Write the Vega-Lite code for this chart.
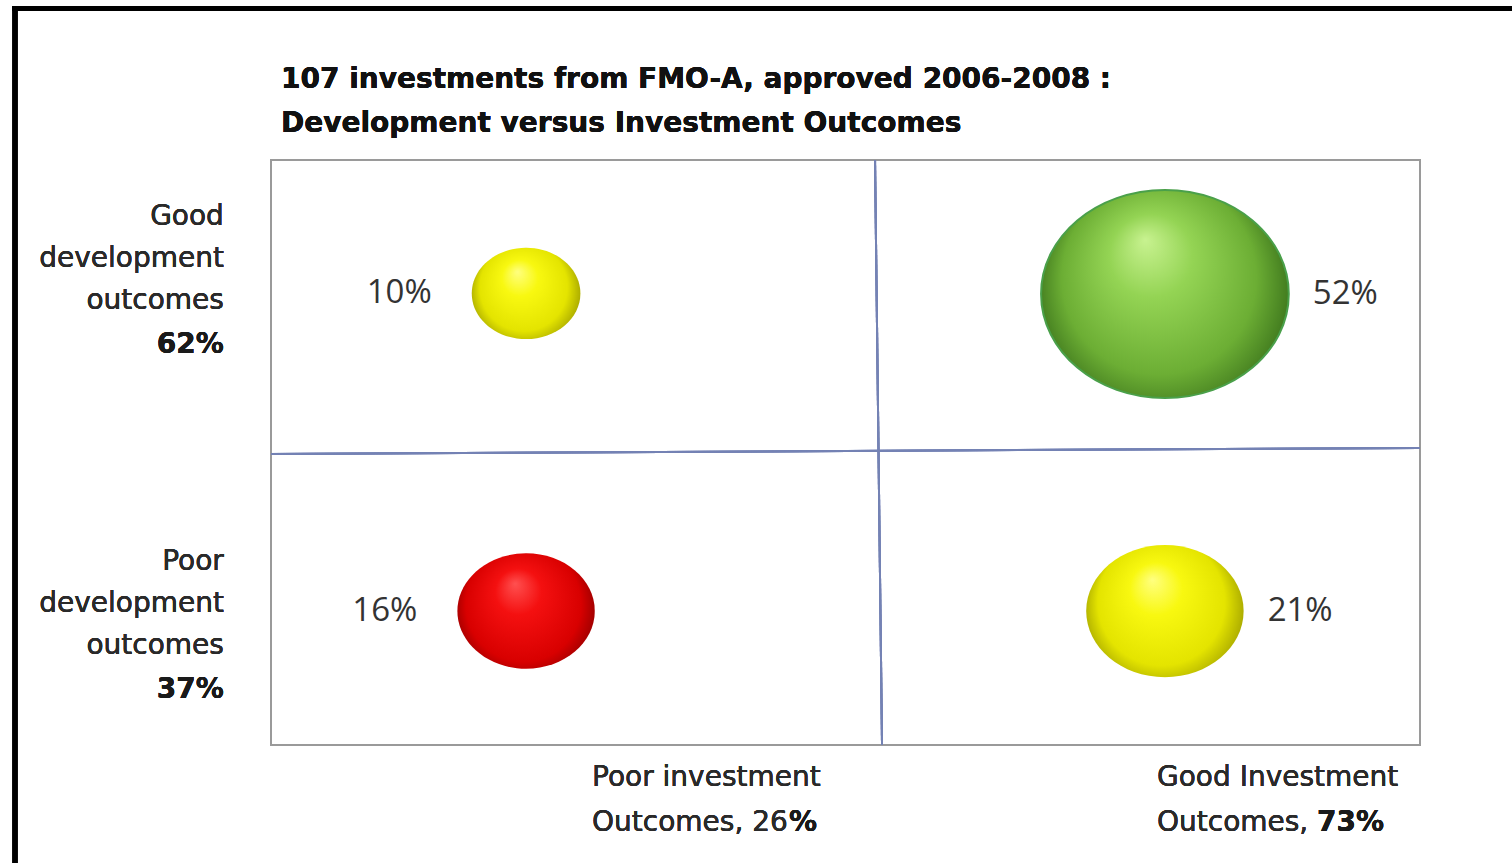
{
  "$schema": "https://vega.github.io/schema/vega-lite/v6.json",
  "autosize": {"type": "none"},
  "width": 1149,
  "height": 585,
  "padding": {"left": 271, "top": 160, "right": 92, "bottom": 118},
  "background": "white",
  "config": {
    "view": {"stroke": "#9a9a9a", "strokeWidth": 2},
    "font": "DejaVu Sans"
  },
  "data": {
    "values": [
      {"investment": "Poor", "development": "Good", "pct": 10, "rating": "mixed", "x": 22.2, "y": 77.2},
      {"investment": "Good", "development": "Good", "pct": 52, "rating": "good", "x": 77.8, "y": 77.1},
      {"investment": "Poor", "development": "Poor", "pct": 16, "rating": "poor", "x": 22.2, "y": 22.9},
      {"investment": "Good", "development": "Poor", "pct": 21, "rating": "mixed", "x": 77.8, "y": 22.9}
    ]
  },
  "layer": [
    {
      "mark": {"type": "rule", "color": "#000000", "strokeWidth": 5},
      "encoding": {
        "x": {"datum": -22.28, "type": "quantitative", "scale": {"domain": [0, 100], "nice": false, "zero": false}, "axis": null},
        "y": {"datum": 126.3, "type": "quantitative", "scale": {"domain": [0, 100], "nice": false, "zero": false}, "axis": null},
        "y2": {"datum": -21}
      }
    },
    {
      "mark": {"type": "rule", "color": "#000000", "strokeWidth": 5},
      "encoding": {
        "x": {"datum": -22.5, "type": "quantitative"},
        "x2": {"datum": 109},
        "y": {"datum": 125.9, "type": "quantitative"}
      }
    },
    {
      "mark": {"type": "text", "font": "DejaVu Sans", "fontSize": 28, "fontWeight": "bold", "color": "#111111", "align": "left", "baseline": "middle", "lineHeight": 44,
        "text": ["107 investments from FMO-A, approved 2006-2008 :", "Development versus Investment Outcomes"]},
      "encoding": {
        "x": {"datum": 0.87, "type": "quantitative"},
        "y": {"datum": 113.68, "type": "quantitative"}
      }
    },
    {
      "mark": {"type": "rule", "color": "#7482b4", "strokeWidth": 2},
      "encoding": {
        "x": {"datum": 52.57, "type": "quantitative"},
        "x2": {"datum": 53.18},
        "y": {"datum": 100, "type": "quantitative"},
        "y2": {"datum": 0}
      }
    },
    {
      "mark": {"type": "rule", "color": "#7482b4", "strokeWidth": 2},
      "encoding": {
        "x": {"datum": 0, "type": "quantitative"},
        "x2": {"datum": 100},
        "y": {"datum": 49.74, "type": "quantitative"},
        "y2": {"datum": 50.77}
      }
    },
    {
      "mark": {
        "type": "point",
        "filled": true,
        "opacity": 1,
        "shape": "M-1,0A1,0.84,0,1,0,1,0A1,0.84,0,1,0,-1,0Z",
        "strokeWidth": 2
      },
      "encoding": {
        "x": {"field": "x", "type": "quantitative"},
        "y": {"field": "y", "type": "quantitative"},
        "size": {"field": "pct", "type": "quantitative", "scale": {"domain": [0, 52], "range": [0, 61360]}, "legend": null},
        "fill": {
          "condition": [
            {"test": "datum.rating === 'good'", "value": {"gradient": "radial", "x1": 0.42, "y1": 0.28, "r1": 0, "x2": 0.5, "y2": 0.5, "r2": 0.56, "stops": [{"offset": 0, "color": "#c8f290"}, {"offset": 0.3, "color": "#94d454"}, {"offset": 0.7, "color": "#6cae34"}, {"offset": 0.9, "color": "#447e20"}, {"offset": 1, "color": "#2c6414"}]}},
            {"test": "datum.rating === 'poor'", "value": {"gradient": "radial", "x1": 0.42, "y1": 0.3, "r1": 0, "x2": 0.5, "y2": 0.5, "r2": 0.56, "stops": [{"offset": 0, "color": "#ff5050"}, {"offset": 0.3, "color": "#f41010"}, {"offset": 0.75, "color": "#d80000"}, {"offset": 0.92, "color": "#a00000"}, {"offset": 1, "color": "#600000"}]}}
          ],
          "value": {"gradient": "radial", "x1": 0.42, "y1": 0.3, "r1": 0, "x2": 0.5, "y2": 0.5, "r2": 0.56, "stops": [{"offset": 0, "color": "#ffff80"}, {"offset": 0.3, "color": "#f8f810"}, {"offset": 0.72, "color": "#e4e400"}, {"offset": 0.9, "color": "#b0b000"}, {"offset": 1, "color": "#7a7a00"}]}
        },
        "stroke": {
          "condition": {"test": "datum.rating === 'good'", "value": "#4aa04a"},
          "value": "transparent"
        }
      }
    },
    {
      "mark": {
        "type": "text",
        "font": "Open Sans",
        "fontSize": 33,
        "color": "#333333",
        "baseline": "middle",
        "text": {"expr": "datum.pct + '%'"},
        "align": {"expr": "datum.x < 50 ? 'right' : 'left'"},
        "dx": {"expr": "datum.x < 50 ? -(sqrt(1180 * datum.pct) / 2 + 40) : (sqrt(1180 * datum.pct) / 2 + 24)"}
      },
      "encoding": {
        "x": {"field": "x", "type": "quantitative"},
        "y": {"field": "y", "type": "quantitative"}
      }
    },
    {
      "mark": {"type": "text", "font": "DejaVu Sans", "fontSize": 28, "color": "#2a2a2a", "align": "right", "baseline": "middle", "lineHeight": 42, "text": ["Good", "development", "outcomes"]},
      "encoding": {
        "x": {"datum": -4.1, "type": "quantitative"},
        "y": {"datum": 90.26, "type": "quantitative"}
      }
    },
    {
      "mark": {"type": "text", "font": "DejaVu Sans", "fontSize": 28, "fontWeight": "bold", "color": "#1a1a1a", "align": "right", "baseline": "middle", "text": "62%"},
      "encoding": {
        "x": {"datum": -4.1, "type": "quantitative"},
        "y": {"datum": 68.38, "type": "quantitative"}
      }
    },
    {
      "mark": {"type": "text", "font": "DejaVu Sans", "fontSize": 28, "color": "#2a2a2a", "align": "right", "baseline": "middle", "lineHeight": 42, "text": ["Poor", "development", "outcomes"]},
      "encoding": {
        "x": {"datum": -4.1, "type": "quantitative"},
        "y": {"datum": 31.28, "type": "quantitative"}
      }
    },
    {
      "mark": {"type": "text", "font": "DejaVu Sans", "fontSize": 28, "fontWeight": "bold", "color": "#1a1a1a", "align": "right", "baseline": "middle", "text": "37%"},
      "encoding": {
        "x": {"datum": -4.1, "type": "quantitative"},
        "y": {"datum": 9.4, "type": "quantitative"}
      }
    },
    {
      "mark": {"type": "text", "font": "DejaVu Sans", "fontSize": 28, "color": "#2a2a2a", "align": "left", "baseline": "middle", "lineHeight": 45, "text": ["Poor investment", "Outcomes, 26"]},
      "encoding": {
        "x": {"datum": 27.94, "type": "quantitative"},
        "y": {"datum": -5.6, "type": "quantitative"}
      }
    },
    {
      "mark": {"type": "text", "font": "DejaVu Sans", "fontSize": 28, "fontWeight": "bold", "color": "#1a1a1a", "align": "left", "baseline": "middle", "dx": 197, "text": "%"},
      "encoding": {
        "x": {"datum": 27.94, "type": "quantitative"},
        "y": {"datum": -13.29, "type": "quantitative"}
      }
    },
    {
      "mark": {"type": "text", "font": "DejaVu Sans", "fontSize": 28, "color": "#2a2a2a", "align": "left", "baseline": "middle", "lineHeight": 45, "text": ["Good Investment", "Outcomes,"]},
      "encoding": {
        "x": {"datum": 77.11, "type": "quantitative"},
        "y": {"datum": -5.6, "type": "quantitative"}
      }
    },
    {
      "mark": {"type": "text", "font": "DejaVu Sans", "fontSize": 28, "fontWeight": "bold", "color": "#1a1a1a", "align": "left", "baseline": "middle", "dx": 160, "text": "73%"},
      "encoding": {
        "x": {"datum": 77.11, "type": "quantitative"},
        "y": {"datum": -13.29, "type": "quantitative"}
      }
    }
  ]
}
